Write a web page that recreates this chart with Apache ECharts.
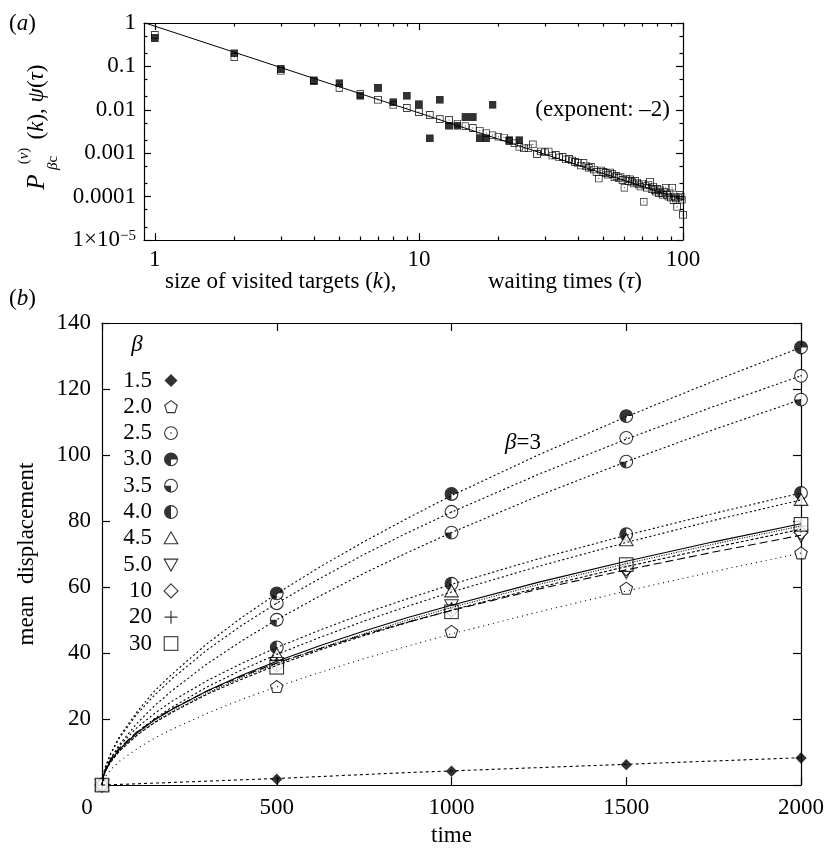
<!DOCTYPE html>
<html>
<head>
<meta charset="utf-8">
<script src="https://cdn.jsdelivr.net/npm/echarts@6/dist/echarts.min.js"></script>
<style>html,body{margin:0;padding:0;background:#fff}#main{width:827px;height:852px}</style>
</head>
<body>
<div id="main"></div>
<script>
// ---- panel (a): log-log distributions ----
// size of visited targets (filled squares)
const visitedK = [1, 2, 3, 4, 5, 6, 7, 8, 9, 10, 11, 12, 13, 14, 15, 16, 17, 18, 19, 22, 24];
const visitedP = [0.45, 0.2, 0.087, 0.046, 0.041, 0.021, 0.032, 0.015, 0.021, 0.0135, 0.0022, 0.017,
  0.0043, 0.0043, 0.0068, 0.0068, 0.0022, 0.0022, 0.013, 0.002, 0.002];
// waiting times tau = 1..100 (open squares)
const waitP = [0.53, 0.165, 0.079, 0.048, 0.032, 0.023, 0.017, 0.013, 0.011, 0.0089,
  0.0076, 0.0061, 0.0058, 0.0048, 0.0042, 0.0038, 0.0033, 0.0029, 0.0026, 0.0024,
  0.0023, 0.0019, 0.0017, 0.0014, 0.0013, 0.0013, 0.0016, 0.00096, 0.0011, 0.00105,
  0.0011, 0.00088, 0.00091, 0.0008, 0.00082, 0.00072, 0.00074, 0.00068, 0.00063, 0.0006,
  0.00052, 0.0006, 0.0005, 0.00046, 0.00048, 0.00042, 0.00037, 0.00026, 0.0004, 0.00037,
  0.00035, 0.00032, 0.00036, 0.00033, 0.00028, 0.0003, 0.00027, 0.00029, 0.00024, 0.00016,
  0.00026, 0.00023, 0.00025, 0.00022, 0.0002, 0.00023, 0.00021, 0.00019, 0.00017, 0.0002,
  0.000076, 0.00018, 0.00016, 0.00019, 0.00022, 0.00015, 0.00017, 0.00014, 0.00013, 0.00015,
  0.00012, 0.00014, 0.00012, 0.00011, 0.00013, 0.00016, 0.00011, 0.0001, 0.00012, 0.000095,
  0.00016, 0.000083, 0.0001, 0.00009, 0.000058, 0.000095, 0.00011, 0.0001, 0.000085, 0.000038];
// exponent -2 guide line
const guideK = [0.92, 100];
const guideP = [1, 0.000085];

// ---- panel (b): mean displacement vs time ----
const betaNames = ['1.5', '2.0', '2.5', '3.0', '3.5', '4.0', '4.5', '5.0', '10', '20', '30'];
const markTimes = [0, 500, 1000, 1500, 2000];
const marks_1_5 = [0, 1.8, 4.2, 6.2, 8.2];
const marks_2_0 = [0, 29.8, 46.5, 59.6, 70.3];
const marks_2_5 = [0, 55.1, 82.8, 105.2, 124.0];
const marks_3_0 = [0, 58.1, 88.2, 111.8, 132.6];
const marks_3_5 = [0, 50.1, 76.5, 98.0, 116.8];
const marks_4_0 = [0, 41.7, 61.0, 76.0, 88.5];
const marks_4_5 = [0, 39.6, 58.7, 74.2, 86.4];
const marks_5_0 = [0, 37.0, 54.5, 64.5, 75.5];
const marks_10 = [0, 36.3, 53.0, 65.5, 76.5];
const marks_20 = [0, 36.8, 53.5, 66.5, 78.5];
const marks_30 = [0, 35.7, 52.5, 66.8, 79.0];

// fitted curves, read along their length
const fitTimes = [0, 5, 10, 25, 50, 100, 150, 200, 300, 400, 500, 625, 750, 875, 1000, 1250, 1500, 1750, 2000];
const fit_1_5 = [0, 0, 0.04, 0.1, 0.2, 0.4, 0.6, 0.8, 1.2, 1.6, 2.0, 2.6, 3.2, 3.8, 4.3, 5.3, 6.3, 7.3, 8.3];
const fit_2_0 = [0, 1.6, 2.6, 4.7, 7.2, 11.0, 14.2, 16.9, 21.7, 26.0, 29.8, 34.2, 38.3, 42.1, 45.8, 52.5, 58.8, 64.7, 70.3];
const fit_2_5 = [0, 3.7, 5.6, 9.5, 14.3, 21.5, 27.2, 32.2, 40.9, 48.4, 55.1, 62.7, 69.9, 76.5, 82.7, 94.2, 104.8, 114.7, 124.0];
const fit_3_0 = [0, 3.7, 5.6, 9.7, 14.7, 22.2, 28.5, 33.6, 42.8, 50.8, 58.0, 66.2, 73.8, 80.9, 87.7, 100.1, 111.6, 122.4, 132.6];
const fit_3_5 = [0, 3.0, 4.6, 8.0, 12.3, 18.7, 24.0, 28.6, 36.7, 43.7, 50.1, 57.4, 64.2, 70.5, 76.5, 87.7, 98.0, 107.7, 116.8];
const fit_4_0 = [0, 3.4, 5.0, 8.2, 11.9, 17.4, 21.7, 25.4, 31.6, 36.9, 41.7, 47.0, 52.0, 56.5, 60.8, 68.6, 75.7, 82.3, 88.5];
const fit_4_5 = [0, 3.0, 4.4, 7.3, 10.8, 16.0, 20.1, 23.6, 29.7, 34.9, 39.6, 44.8, 49.7, 54.2, 58.5, 66.3, 73.5, 80.2, 86.4];
const fit_5_0 = [0, 3.4, 4.9, 7.9, 11.3, 16.1, 19.9, 23.1, 28.4, 33.0, 37.0, 41.4, 45.6, 49.4, 52.9, 59.4, 65.2, 70.6, 75.7];
const fit_10 = [0, 2.9, 4.3, 7.0, 10.3, 15.1, 18.9, 22.0, 27.5, 32.1, 36.3, 41.0, 45.3, 49.3, 53.0, 59.9, 66.2, 72.0, 77.5];
const fit_20 = [0, 2.9, 4.3, 7.1, 10.4, 15.3, 19.1, 22.3, 27.8, 32.6, 36.8, 41.5, 45.9, 50.0, 53.8, 60.8, 67.1, 73.0, 78.5];
const fit_30 = [0, 3.1, 4.6, 7.5, 10.8, 15.8, 19.7, 22.9, 28.5, 33.3, 37.5, 42.3, 46.7, 50.8, 54.5, 61.5, 67.8, 73.7, 79.2];

const markVals = [marks_1_5, marks_2_0, marks_2_5, marks_3_0, marks_3_5, marks_4_0, marks_4_5, marks_5_0, marks_10, marks_20, marks_30];
const fitVals = [fit_1_5, fit_2_0, fit_2_5, fit_3_0, fit_3_5, fit_4_0, fit_4_5, fit_5_0, fit_10, fit_20, fit_30];

// ---- styles ----
const FONT = 'Liberation Serif';
const FS = 23;
const black = '#000';

function svgSym(inner, vb) {
  const s = '<svg xmlns="http://www.w3.org/2000/svg" width="32" height="32" viewBox="' + (vb || '0 0 16 16') + '">' + inner + '</svg>';
  return 'image://data:image/svg+xml;charset=utf-8,' + encodeURIComponent(s);
}
const ring = '<circle cx="8" cy="8" r="6.4" fill="none" stroke="#000" stroke-width="1.1"/>';
const disc = '<circle cx="8" cy="8" r="6.4" fill="#fff"/>';
const symbols = [
  svgSym('<polygon points="8,1.5 14.5,8 8,14.5 1.5,8" fill="#000"/>'),
  svgSym('<polygon points="8,1.8 14.3,6.4 11.9,13.8 4.1,13.8 1.7,6.4" fill="#fff" stroke="#000" stroke-width="1.1"/>'),
  svgSym(disc + ring + '<circle cx="8" cy="8" r="0.8" fill="#000"/>'),
  svgSym('<circle cx="8" cy="8" r="6.4" fill="#000"/><path d="M8 8 L14.4 8 A6.4 6.4 0 0 1 8 14.4 Z" fill="#fff"/>' + ring),
  svgSym(disc + '<path d="M8 8 L8 14.4 A6.4 6.4 0 0 1 1.6 8 Z" fill="#000"/>' + ring),
  svgSym(disc + '<path d="M8 1.6 A6.4 6.4 0 0 0 8 14.4 Z" fill="#000"/>' + ring),
  svgSym('<polygon points="8,1.5 14.8,13.5 1.2,13.5" fill="#fff" stroke="#000" stroke-width="1.1"/>'),
  svgSym('<polygon points="1.2,2.5 14.8,2.5 8,14.5" fill="#fff" stroke="#000" stroke-width="1.1"/>'),
  svgSym('<polygon points="8,1 15,8 8,15 1,8" fill="#fff" stroke="#000" stroke-width="1.1"/>'),
  svgSym('<path d="M8 1.5 V14.5 M1.5 8 H14.5" stroke="#000" stroke-width="1.2" fill="none"/>'),
  svgSym('<rect x="1.2" y="1.2" width="13.6" height="13.6" fill="#fff" stroke="#000" stroke-width="1.1"/>')
];
const openSquare = svgSym('<rect x="0.7" y="0.7" width="8.6" height="8.6" fill="none" stroke="#000" stroke-width="1.2"/><rect x="4.4" y="4.4" width="1.2" height="1.2" fill="#000"/>', '0 0 10 10');
const filledSquare = svgSym('<rect x="0" y="0" width="10" height="10" fill="#000"/>', '0 0 10 10');
const fitDash = [[3, 3], [1, 4], [2, 2.5], [2, 2.5], [2, 2.5], [2, 2.5], [2, 2.5], [8, 4], [3, 2], [1, 1.5], 'solid'];

const lineSt = { color: black, width: 1.2 };
const labelSt = { fontFamily: FONT, fontSize: FS, color: black };

function logAxis(gridIndex, pos, ticks, len, labels, extra) {
  return Object.assign({
    gridIndex: gridIndex, type: 'log', position: pos,
    axisLine: { show: labels !== null || len > 5, onZero: false, lineStyle: lineSt },
    axisTick: { show: true, inside: true, length: len, customValues: ticks, lineStyle: lineSt },
    axisLabel: labels ? labels : { show: false },
    splitLine: { show: false }
  }, extra);
}

const kMajor = [1, 10, 100];
const kMinor = [2, 3, 4, 5, 6, 7, 8, 9, 20, 30, 40, 50, 60, 70, 80, 90];
const pMajor = [0.00001, 0.0001, 0.001, 0.01, 0.1, 1];
const pMinor = [0.00002, 0.00005, 0.0002, 0.0005, 0.002, 0.005, 0.02, 0.05, 0.2, 0.5];

const kRange = { min: 0.91, max: 100 };
const pRange = { min: 0.00001, max: 1 };

const xLab = Object.assign({ customValues: kMajor, margin: 8, formatter: v => String(Math.round(v)) }, labelSt);
const yLab = Object.assign({
  customValues: pMajor, margin: 8,
  formatter: v => {
    const e = Math.round(Math.log10(v));
    if (e === 0) return '1';
    if (e >= -4) return Math.pow(10, e).toFixed(-e);
    return '1×10{sup|−5}';
  },
  rich: { sup: { fontFamily: FONT, fontSize: 15, color: black, verticalAlign: 'top', padding: [0, 0, 8, 0] } }
}, labelSt);

const xAxes = [
  logAxis(0, 'bottom', kMajor, 7, xLab, kRange),
  logAxis(0, 'top', kMajor, 7, null, kRange),
  logAxis(0, 'bottom', kMinor, 3.5, null, kRange),
  logAxis(0, 'top', kMinor, 3.5, null, kRange),
  {
    gridIndex: 1, type: 'value', position: 'bottom', min: 0, max: 2000, interval: 500,
    axisLine: { show: true, onZero: false, lineStyle: lineSt },
    axisTick: { inside: true, length: 8, lineStyle: lineSt },
    axisLabel: Object.assign({
      margin: 11,
      formatter: v => v === 0 ? '{z|0}' : String(v),
      rich: { z: { fontFamily: FONT, fontSize: FS, color: black, padding: [0, 30, 0, 0] } }
    }, labelSt),
    splitLine: { show: false },
    name: 'time', nameLocation: 'middle', nameGap: 38, nameTextStyle: labelSt
  },
  {
    gridIndex: 1, type: 'value', position: 'top', min: 0, max: 2000, interval: 500,
    axisLine: { show: true, onZero: false, lineStyle: lineSt },
    axisTick: { inside: true, length: 8, lineStyle: lineSt },
    axisLabel: { show: false }, splitLine: { show: false }
  }
];
const yAxes = [
  logAxis(0, 'left', pMajor, 7, yLab, pRange),
  logAxis(0, 'right', pMajor, 7, null, pRange),
  logAxis(0, 'left', pMinor, 3.5, null, pRange),
  logAxis(0, 'right', pMinor, 3.5, null, pRange),
  {
    gridIndex: 1, type: 'value', position: 'left', min: 0, max: 140, interval: 20,
    axisLine: { show: true, onZero: false, lineStyle: lineSt },
    axisTick: { inside: true, length: 8, lineStyle: lineSt },
    axisLabel: Object.assign({ margin: 11, formatter: v => v === 0 ? '' : String(v) }, labelSt),
    splitLine: { show: false },
    name: 'mean  displacement', nameLocation: 'middle', nameGap: 64, nameRotate: 90, nameTextStyle: labelSt
  },
  {
    gridIndex: 1, type: 'value', position: 'right', min: 0, max: 140, interval: 20,
    axisLine: { show: true, onZero: false, lineStyle: lineSt },
    axisTick: { inside: true, length: 8, lineStyle: lineSt },
    axisLabel: { show: false }, splitLine: { show: false }
  }
];

const series = [
  {
    type: 'line', xAxisIndex: 0, yAxisIndex: 0, symbol: 'none', silent: true,
    data: guideK.map((k, i) => [k, guideP[i]]),
    lineStyle: { color: black, width: 1 }
  },
  {
    type: 'scatter', name: 'waiting', xAxisIndex: 0, yAxisIndex: 0, clip: false,
    symbol: openSquare, symbolSize: 8,
    data: waitP.map((p, i) => [i + 1, p])
  },
  {
    type: 'scatter', name: 'visited', xAxisIndex: 0, yAxisIndex: 0, clip: false,
    symbol: filledSquare, symbolSize: 8,
    data: visitedK.map((k, i) => [k, visitedP[i]])
  }
];
fitVals.forEach((vals, i) => {
  series.push({
    type: 'line', name: 'fit ' + betaNames[i], xAxisIndex: 4, yAxisIndex: 4,
    symbol: 'none', silent: true,
    data: fitTimes.map((t, j) => [t, vals[j]]),
    lineStyle: { color: black, width: 1.1, type: fitDash[i] }
  });
});
markVals.forEach((vals, i) => {
  series.push({
    type: 'scatter', name: betaNames[i], xAxisIndex: 4, yAxisIndex: 4, clip: false,
    symbol: symbols[i], symbolSize: i === 0 ? 14 : 16,
    data: markTimes.map((t, j) => [t, vals[j]])
  });
});

const chart = echarts.init(document.getElementById('main'));
chart.setOption({
  animation: false,
  backgroundColor: '#fff',
  textStyle: { fontFamily: FONT },
  grid: [
    { left: 144, right: 144, top: 23, height: 217 },
    { left: 102, right: 25, top: 323, height: 470 }
  ],
  xAxis: xAxes,
  yAxis: yAxes,
  legend: {
    left: 112, top: 369, orient: 'vertical', align: 'right', padding: 0,
    itemGap: 3.3, itemWidth: 16, itemHeight: 16, selectedMode: false,
    formatter: n => '{n|' + n + '}',
    textStyle: {
      fontFamily: FONT, fontSize: FS, color: black,
      rich: { n: { fontFamily: FONT, fontSize: FS, color: black, width: 40, align: 'right', padding: [0, 6, 0, 0], lineHeight: 20 } }
    },
    data: betaNames.map((n, i) => ({ name: n, icon: symbols[i] }))
  },
  graphic: [
    { type: 'text', left: 9, top: 12, style: { text: '({i|a})', font: FS + 'px ' + FONT, fill: black, rich: { i: { fontStyle: 'italic', fontFamily: FONT, fontSize: FS } } } },
    { type: 'text', left: 9, top: 287, style: { text: '({i|b})', font: FS + 'px ' + FONT, fill: black, rich: { i: { fontStyle: 'italic', fontFamily: FONT, fontSize: FS } } } },
    { type: 'text', x: 670, y: 110, style: { text: '(exponent: –2)', font: FS + 'px ' + FONT, fill: black, align: 'right', verticalAlign: 'middle' } },
    { type: 'text', x: 165, y: 282, style: { text: 'size of visited targets ({i|k}),', font: FS + 'px ' + FONT, fill: black, verticalAlign: 'middle', rich: { i: { fontStyle: 'italic', fontFamily: FONT, fontSize: FS } } } },
    { type: 'text', x: 488, y: 282, style: { text: 'waiting times ({i|τ})', font: FS + 'px ' + FONT, fill: black, verticalAlign: 'middle', rich: { i: { fontStyle: 'italic', fontFamily: FONT, fontSize: FS } } } },
    // rotated y title of panel (a)
    { type: 'text', x: 37, y: 182, rotation: Math.PI / 2, style: { text: 'P', font: 'italic 25px ' + FONT, fill: black, align: 'center', verticalAlign: 'middle' } },
    { type: 'text', x: 24, y: 156, rotation: Math.PI / 2, style: { text: '({i|v})', font: '15px ' + FONT, fill: black, align: 'center', verticalAlign: 'middle', rich: { i: { fontStyle: 'italic', fontFamily: FONT, fontSize: 15 } } } },
    { type: 'text', x: 53, y: 163, rotation: Math.PI / 2, style: { text: '{i|β}c', font: '15px ' + FONT, fill: black, align: 'center', verticalAlign: 'middle', rich: { i: { fontStyle: 'italic', fontFamily: FONT, fontSize: 15 } } } },
    { type: 'text', x: 37, y: 102, rotation: Math.PI / 2, style: { text: '({i|k}), {i|ψ}({i|τ})', font: FS + 'px ' + FONT, fill: black, align: 'center', verticalAlign: 'middle', rich: { i: { fontStyle: 'italic', fontFamily: FONT, fontSize: FS } } } },
    // legend header and curve annotation in panel (b)
    { type: 'text', x: 137, y: 345, style: { text: 'β', font: 'italic ' + FS + 'px ' + FONT, fill: black, align: 'center', verticalAlign: 'middle' } },
    { type: 'text', x: 505, y: 443, style: { text: '{i|β}=3', font: FS + 'px ' + FONT, fill: black, verticalAlign: 'middle', rich: { i: { fontStyle: 'italic', fontFamily: FONT, fontSize: FS } } } }
  ],
  series: series
});
</script>
</body>
</html>
